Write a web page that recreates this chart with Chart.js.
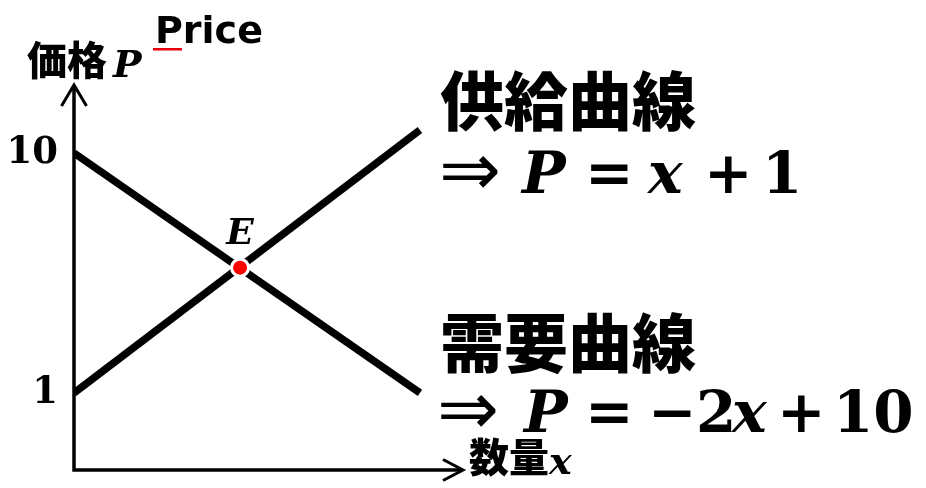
<!DOCTYPE html>
<html><head><meta charset="utf-8">
<script src="https://cdn.jsdelivr.net/npm/chart.js@4.4.0/dist/chart.umd.min.js"></script>
<style>html,body{margin:0;padding:0;background:#fff;overflow:hidden}#wrap{position:relative;width:926px;height:488px}</style>
</head><body><div id="wrap"><canvas id="c" width="926" height="488"></canvas></div>
<script>
// Data
const quantity = [0, 4.5];
const supplyPrice = [1, 10.86];
const demandPrice = [10, 1];
const equilibriumQ = [2.16];
const equilibriumP = [5.7];
const yTickValues = [1, 10];
const yTitle = '価格';
const xTitle = '数量';
const pointLabel = 'E';
const supplyTitle = '供給曲線';
const demandTitle = '需要曲線';
const supplyEq = ['⇒', 'P', '=', 'x', '+', '1'];
const demandEq = ['⇒', 'P', '=', '−', '2', 'x', '+', '10'];

const MATH = '"DejaVu Serif"';
const CJK = '"Noto Sans CJK JP"';

const decor = {
  id: 'decor',
  beforeDatasetsDraw(chart) {
    const ctx = chart.ctx, xs = chart.scales.x, ys = chart.scales.y;
    const x0 = xs.getPixelForValue(0), yb = ys.bottom, yt = ys.top, xr = xs.right;
    ctx.save();
    ctx.strokeStyle = '#000'; ctx.lineWidth = 3.5; ctx.lineCap = 'butt';
    ctx.beginPath(); ctx.moveTo(x0, yt + 1); ctx.lineTo(x0, yb); ctx.lineTo(xr - 1, yb); ctx.stroke();
    ctx.lineWidth = 3; ctx.lineJoin = 'miter';
    ctx.beginPath(); ctx.moveTo(x0 - 12.5, yt + 21); ctx.lineTo(x0, yt); ctx.lineTo(x0 + 12.5, yt + 21); ctx.stroke();
    ctx.beginPath(); ctx.moveTo(xr - 20, yb - 10.5); ctx.lineTo(xr, yb); ctx.lineTo(xr - 20, yb + 10.5); ctx.stroke();
    ctx.restore();
  },
  afterDraw(chart) {
    const ctx = chart.ctx, xs = chart.scales.x, ys = chart.scales.y;
    ctx.save();
    ctx.fillStyle = '#000';
    ctx.textBaseline = 'alphabetic';
    ctx.textAlign = 'left';
    const t = (s, x, y, font) => { ctx.font = font; ctx.fillText(s, x, y); };
    // axis titles
    t(yTitle, 27, 75, '900 40px ' + CJK);
    t('P', 113, 77, 'italic bold 38px ' + MATH);
    t('Price', 155, 43, 'bold 38px "DejaVu Sans"');
    ctx.fillStyle = '#e8000b'; ctx.fillRect(153, 48, 29, 2.5); ctx.fillStyle = '#000';
    t(xTitle, 469, 472, '900 40px ' + CJK);
    t('x', 549, 474, 'italic bold 38px ' + MATH);
    // point label
    const ex = xs.getPixelForValue(equilibriumQ[0]), ey = ys.getPixelForValue(equilibriumP[0]);
    ctx.textAlign = 'center';
    t(pointLabel, ex, ey - 24, 'italic bold 36px ' + MATH);
    ctx.textAlign = 'left';
    // curve titles
    t(supplyTitle, 440, 125, '900 64px ' + CJK);
    t(demandTitle, 440, 367, '900 64px ' + CJK);
    const pos1 = [439, 522, 585, 648, 704, 762];
    const pos2 = [437, 524, 585, 648, 696, 732, 777, 833];
    const drawEq = (tokens, pos, base) => tokens.forEach((s, i) => {
      if (s === '⇒') { t(s, pos[i], base + 2, '74px "DejaVu Sans"'); return; }
      const it = (s === 'P' || s === 'x');
      t(s, pos[i], base, (it ? 'italic bold ' : 'bold ') + '58px ' + MATH);
    });
    drawEq(supplyEq, pos1, 193);
    drawEq(demandEq, pos2, 432);
    ctx.restore();
  }
};

const pts = (xsArr, ysArr) => xsArr.map((v, i) => ({x: v, y: ysArr[i]}));

new Chart(document.getElementById('c'), {
  type: 'line',
  data: {
    datasets: [
      { label: 'E', data: pts(equilibriumQ, equilibriumP), showLine: false, order: 0,
        pointRadius: 8.5, pointBackgroundColor: '#ff0000', pointBorderColor: '#ffffff', pointBorderWidth: 3 },
      { label: 'supply', data: pts(quantity, supplyPrice), borderColor: '#000', borderWidth: 7.5, pointRadius: 0, order: 1, fill: false, tension: 0 },
      { label: 'demand', data: pts(quantity, demandPrice), borderColor: '#000', borderWidth: 7.5, pointRadius: 0, order: 1, fill: false, tension: 0 }
    ]
  },
  options: {
    responsive: false, animation: false, devicePixelRatio: 1,
    layout: { padding: { left: 0, top: 85, right: 463, bottom: 18 } },
    plugins: { legend: { display: false }, tooltip: { enabled: false } },
    scales: {
      x: { type: 'linear', min: 0, max: 5.06, display: false },
      y: { type: 'linear', min: -1.89, max: 12.55,
        grid: { display: false, drawTicks: false }, border: { display: false },
        ticks: { color: '#000', padding: 16, autoSkip: false, font: { family: 'DejaVu Serif', weight: 'bold', size: 37 } },
        afterBuildTicks: s => { s.ticks = yTickValues.map(v => ({ value: v })); },
        afterFit: s => { s.width = 74; s.paddingTop = 0; s.paddingBottom = 0; }
      }
    }
  },
  plugins: [decor]
});
</script></body></html>
